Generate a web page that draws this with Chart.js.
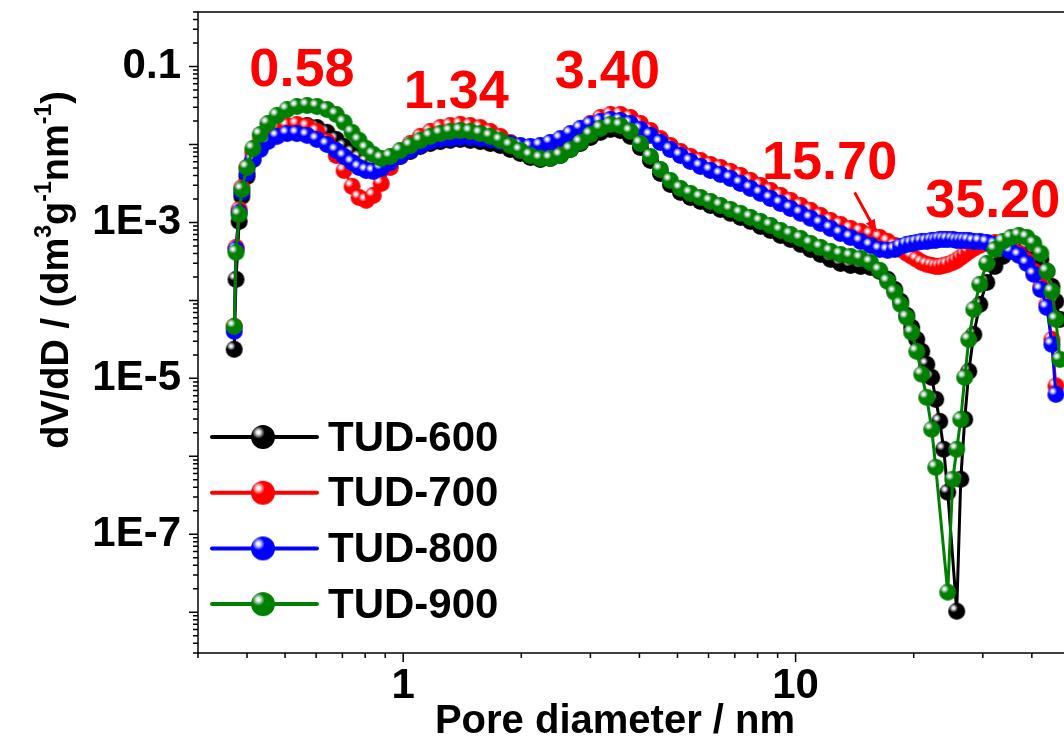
<!DOCTYPE html>
<html>
<head>
<meta charset="utf-8">
<script src="https://cdn.jsdelivr.net/npm/chart.js@4.4.0/dist/chart.umd.min.js"></script>
<style>
  html, body { margin: 0; padding: 0; background: #fff; overflow: hidden; }
  #wrap { width: 1120px; height: 740px; }
</style>
</head>
<body>
<div id="wrap"><canvas id="psd" width="1120" height="740"></canvas></div>
<script>
// pore diameter grid (nm), shared by all four samples
const diameter = [
  0.371,0.375,0.382,0.388,0.400,0.414,0.432,0.452,0.477,0.506,
  0.536,0.569,0.603,0.640,0.675,0.707,0.741,0.772,0.805,0.839,
  0.879,0.927,0.982,1.042,1.105,1.172,1.243,1.318,1.398,1.482,
  1.572,1.667,1.768,1.875,1.988,2.109,2.236,2.371,2.515,2.667,
  2.828,2.999,3.181,3.374,3.577,3.794,4.023,4.267,4.525,4.798,
  5.089,5.397,5.724,6.070,6.437,6.826,7.239,7.677,8.141,8.634,
  9.157,9.710,10.30,10.92,11.58,12.28,13.02,13.81,14.65,15.53,
  16.38,17.17,17.89,18.53,19.20,19.77,20.36,20.97,21.59,22.23,
  22.76,23.30,23.85,24.42,25.15,25.74,26.36,26.98,27.63,28.45,
  29.47,30.71,32.19,33.74,35.37,37.07,38.86,40.48,42.17,43.69,
  44.99,46.06,47.16
];

// dV/dD values (dm3 g-1 nm-1)
const tud600 = [
  2.36e-5,1.86e-4,1.03e-3,2.16e-3,3.89e-3,6.42e-3,9.15e-3,1.19e-2,1.47e-2,1.65e-2,
  1.75e-2,1.75e-2,1.65e-2,1.43e-2,1.16e-2,9.43e-3,7.90e-3,6.81e-3,6.06e-3,5.71e-3,
  5.54e-3,6.06e-3,7.02e-3,8.13e-3,9.43e-3,1.03e-2,1.09e-2,1.13e-2,1.16e-2,1.13e-2,
  1.09e-2,1.03e-2,9.71e-3,8.63e-3,7.67e-3,6.81e-3,6.42e-3,6.62e-3,7.23e-3,8.63e-3,
  1.03e-2,1.23e-2,1.43e-2,1.56e-2,1.51e-2,1.27e-2,9.15e-3,6.24e-3,4.25e-3,3.07e-3,
  2.43e-3,2.09e-3,1.86e-3,1.65e-3,1.47e-3,1.31e-3,1.16e-3,1.03e-3,8.89e-4,7.90e-4,
  6.81e-4,6.06e-4,5.23e-4,4.51e-4,3.89e-4,3.36e-4,2.98e-4,2.81e-4,2.73e-4,2.65e-4,
  2.36e-4,1.86e-4,1.38e-4,9.71e-5,6.42e-5,4.51e-5,3.16e-5,2.22e-5,1.51e-5,1.03e-5,
  5.38e-6,2.81e-6,1.23e-6,3.46e-7,null,1.03e-8,5.07e-7,2.98e-6,1.23e-5,3.67e-5,
  8.89e-5,1.70e-4,2.73e-4,3.67e-4,4.38e-4,4.78e-4,4.78e-4,4.25e-4,3.36e-4,2.36e-4,
  1.51e-4,9.71e-5,5.71e-5
];
const tud700 = [
  4.64e-5,4.78e-4,1.47e-3,2.81e-3,5.07e-3,7.90e-3,1.09e-2,1.38e-2,1.61e-2,1.75e-2,
  1.81e-2,1.70e-2,1.47e-2,1.09e-2,7.23e-3,4.64e-3,2.90e-3,2.09e-3,1.92e-3,2.22e-3,
  3.16e-3,5.07e-3,7.67e-3,1.03e-2,1.27e-2,1.47e-2,1.65e-2,1.75e-2,1.81e-2,1.75e-2,
  1.65e-2,1.47e-2,1.27e-2,1.06e-2,8.63e-3,7.45e-3,7.02e-3,7.67e-3,9.43e-3,1.19e-2,
  1.51e-2,1.86e-2,2.22e-2,2.43e-2,2.43e-2,2.22e-2,1.86e-2,1.51e-2,1.19e-2,9.71e-3,
  8.13e-3,7.02e-3,6.24e-3,5.54e-3,5.07e-3,4.51e-3,4.01e-3,3.46e-3,2.98e-3,2.57e-3,
  2.22e-3,1.92e-3,1.65e-3,1.43e-3,1.23e-3,1.06e-3,9.43e-4,8.38e-4,7.67e-4,7.02e-4,
  6.42e-4,5.71e-4,5.07e-4,4.51e-4,4.01e-4,3.67e-4,3.36e-4,3.07e-4,2.90e-4,2.81e-4,
  2.73e-4,2.73e-4,2.81e-4,2.90e-4,3.07e-4,3.26e-4,3.56e-4,3.89e-4,4.25e-4,4.64e-4,
  5.07e-4,5.38e-4,5.54e-4,5.38e-4,4.64e-4,4.01e-4,3.26e-4,2.36e-4,1.51e-4,8.89e-5,
  3.16e-5,8.0e-6,null
];
const tud800 = [
  4.01e-5,4.51e-4,1.34e-3,2.43e-3,4.25e-3,6.42e-3,8.63e-3,1.09e-2,1.27e-2,1.38e-2,
  1.38e-2,1.31e-2,1.16e-2,1.00e-2,8.38e-3,7.02e-3,5.88e-3,5.07e-3,4.64e-3,4.51e-3,
  4.93e-3,5.88e-3,7.02e-3,8.38e-3,9.71e-3,1.09e-2,1.16e-2,1.19e-2,1.23e-2,1.23e-2,
  1.19e-2,1.16e-2,1.09e-2,1.03e-2,9.71e-3,9.43e-3,9.71e-3,1.06e-2,1.19e-2,1.38e-2,
  1.61e-2,1.81e-2,1.97e-2,2.09e-2,2.03e-2,1.86e-2,1.56e-2,1.31e-2,1.06e-2,8.63e-3,
  7.23e-3,6.06e-3,5.23e-3,4.64e-3,4.13e-3,3.67e-3,3.16e-3,2.73e-3,2.36e-3,2.03e-3,
  1.75e-3,1.51e-3,1.31e-3,1.13e-3,9.71e-4,8.38e-4,7.23e-4,6.42e-4,5.71e-4,5.07e-4,
  4.51e-4,4.38e-4,4.51e-4,4.93e-4,5.23e-4,5.38e-4,5.54e-4,5.71e-4,5.71e-4,5.88e-4,
  5.88e-4,6.06e-4,6.06e-4,6.06e-4,6.06e-4,5.88e-4,5.88e-4,5.88e-4,5.88e-4,5.71e-4,
  5.71e-4,5.54e-4,5.23e-4,4.78e-4,4.25e-4,3.78e-4,2.98e-4,2.16e-4,1.38e-4,8.13e-5,
  2.73e-5,6.24e-6,null
];
const tud900 = [
  4.64e-5,4.13e-4,1.27e-3,2.65e-3,5.07e-3,8.89e-3,1.34e-2,1.86e-2,2.36e-2,2.81e-2,
  3.07e-2,3.16e-2,3.07e-2,2.81e-2,2.43e-2,1.92e-2,1.43e-2,1.13e-2,8.89e-3,7.45e-3,
  6.62e-3,7.02e-3,8.38e-3,9.71e-3,1.13e-2,1.27e-2,1.38e-2,1.47e-2,1.51e-2,1.47e-2,
  1.38e-2,1.27e-2,1.13e-2,9.71e-3,8.38e-3,7.23e-3,6.62e-3,6.62e-3,7.23e-3,8.63e-3,
  1.06e-2,1.34e-2,1.61e-2,1.81e-2,1.75e-2,1.47e-2,1.03e-2,7.02e-3,4.78e-3,3.46e-3,
  2.73e-3,2.36e-3,2.09e-3,1.86e-3,1.65e-3,1.47e-3,1.31e-3,1.16e-3,1.03e-3,9.15e-4,
  7.90e-4,7.02e-4,6.24e-4,5.38e-4,4.78e-4,4.25e-4,3.89e-4,3.67e-4,3.46e-4,3.07e-4,
  2.43e-4,1.75e-4,1.27e-4,8.89e-5,6.06e-5,3.89e-5,2.22e-5,1.13e-5,5.71e-6,2.22e-6,
  7.23e-7,null,null,1.81e-8,5.07e-7,1.23e-6,2.98e-6,1.03e-5,3.16e-5,7.67e-5,
  1.61e-4,2.98e-4,4.51e-4,5.71e-4,6.42e-4,6.81e-4,6.42e-4,5.38e-4,4.01e-4,2.36e-4,
  1.31e-4,5.71e-5,1.75e-5
];

const seriesNames = ['TUD-600', 'TUD-700', 'TUD-800', 'TUD-900'];
const seriesValues = [tud600, tud700, tud800, tud900];
const seriesColors = ['#000000', '#ff0000', '#0000ff', '#008000'];

// axis ticks
const xLabelTicks = [1, 10];
const yLabelTicks = [0.1, 1e-3, 1e-5, 1e-7];
const xTickValues = [0.3,0.4,0.5,0.6,0.7,0.8,0.9,1,2,3,4,5,6,7,8,9,10,20,30,40,50,60];
const yDecades = [-9, -8, -7, -6, -5, -4, -3, -2, -1];
const yTickValues = [];
yDecades.forEach(e => { for (let m = 1; m <= 9; m++) yTickValues.push(m * Math.pow(10, e)); });

// peak labels (text, diameter, dV/dD where the text sits)
const peakText = ['0.58', '1.34', '3.40', '15.70', '35.20'];
const peakAt = [[0.552, 0.0863], [1.365, 0.0451], [3.314, 0.0813], [12.21, 5.54e-3], [31.8, 1.80e-3]];
const arrowFrom = [14.14, 2.43e-3];
const arrowTo = [16.09, 7.44e-4];

const FONT = "'Liberation Sans', Arial, Helvetica, sans-serif";

// shiny ball markers
function makeBall(color, r) {
  const c = document.createElement('canvas');
  const size = Math.ceil(r * 2 + 2);
  c.width = c.height = size;
  const g = c.getContext('2d');
  const cx = size / 2, cy = size / 2;
  const hx = cx - r * 0.38, hy = cy - r * 0.38;
  const grad = g.createRadialGradient(hx, hy, 0, hx, hy, r * 1.5);
  grad.addColorStop(0, '#ffffff');
  grad.addColorStop(0.1, 'rgba(235,235,245,1)');
  grad.addColorStop(0.35, color);
  grad.addColorStop(1, color);
  g.fillStyle = grad;
  g.beginPath();
  g.arc(cx, cy, r, 0, Math.PI * 2);
  g.fill();
  return c;
}
const balls = seriesColors.map(c => makeBall(c, 8.5));
const legendBalls = seriesColors.map(c => makeBall(c, 12));

function isDecade(v) {
  const l = Math.log10(v);
  return Math.abs(l - Math.round(l)) < 1e-6;
}

const decor = {
  id: 'decor',
  afterDraw(chart) {
    const { ctx, chartArea: a, scales: { x, y } } = chart;
    ctx.save();

    // frame
    ctx.strokeStyle = '#000';
    ctx.lineWidth = 1.5;
    ctx.strokeRect(a.left, a.top, a.right - a.left, a.bottom - a.top);

    // tick marks, outward
    ctx.beginPath();
    xTickValues.forEach(v => {
      const px = x.getPixelForValue(v);
      if (px < a.left - 1 || px > a.right) return;
      const len = isDecade(v) ? 9 : 5;
      ctx.moveTo(px, a.bottom);
      ctx.lineTo(px, a.bottom + len);
    });
    yTickValues.forEach(v => {
      const py = y.getPixelForValue(v);
      if (py < a.top || py > a.bottom + 1) return;
      const len = isDecade(v) ? 9 : 5;
      ctx.moveTo(a.left, py);
      ctx.lineTo(a.left - len, py);
    });
    ctx.stroke();

    // axis titles
    ctx.fillStyle = '#000';
    ctx.font = 'bold 40px ' + FONT;
    ctx.textAlign = 'center';
    ctx.textBaseline = 'alphabetic';
    ctx.fillText('Pore diameter / nm', 615, 733);

    const parts = [['dV/dD / (dm', 0], ['3', 1], ['g', 0], ['-1', 1], ['nm', 0], ['-1', 1], [')', 0]];
    const mainFont = 'bold 38px ' + FONT, supFont = 'bold 23px ' + FONT;
    let total = 0;
    parts.forEach(p => { ctx.font = p[1] ? supFont : mainFont; total += ctx.measureText(p[0]).width; });
    ctx.save();
    ctx.translate(68, 270);
    ctx.rotate(-Math.PI / 2);
    ctx.textAlign = 'left';
    let cx = -total / 2;
    parts.forEach(p => {
      ctx.font = p[1] ? supFont : mainFont;
      ctx.fillText(p[0], cx, p[1] ? -17 : 0);
      cx += ctx.measureText(p[0]).width;
    });
    ctx.restore();

    // peak labels
    ctx.fillStyle = '#ff0000';
    ctx.font = 'bold 54px ' + FONT;
    ctx.textAlign = 'center';
    ctx.textBaseline = 'middle';
    peakText.forEach((t, i) => {
      ctx.fillText(t, x.getPixelForValue(peakAt[i][0]), y.getPixelForValue(peakAt[i][1]));
    });

    // arrow to the 15.70 shoulder
    const x0 = x.getPixelForValue(arrowFrom[0]), y0 = y.getPixelForValue(arrowFrom[1]);
    const x1 = x.getPixelForValue(arrowTo[0]), y1 = y.getPixelForValue(arrowTo[1]);
    const ang = Math.atan2(y1 - y0, x1 - x0);
    ctx.strokeStyle = '#ff0000';
    ctx.lineWidth = 3;
    ctx.beginPath();
    ctx.moveTo(x0, y0);
    ctx.lineTo(x1 - 8 * Math.cos(ang), y1 - 8 * Math.sin(ang));
    ctx.stroke();
    ctx.beginPath();
    ctx.moveTo(x1, y1);
    ctx.lineTo(x1 - 13 * Math.cos(ang) + 5 * Math.sin(ang), y1 - 13 * Math.sin(ang) - 5 * Math.cos(ang));
    ctx.lineTo(x1 - 13 * Math.cos(ang) - 5 * Math.sin(ang), y1 - 13 * Math.sin(ang) + 5 * Math.cos(ang));
    ctx.closePath();
    ctx.fillStyle = '#ff0000';
    ctx.fill();

    // legend
    seriesNames.forEach((name, k) => {
      const ly = 437 + k * 55.7;
      ctx.strokeStyle = seriesColors[k];
      ctx.lineWidth = 4;
      ctx.lineCap = 'round';
      ctx.beginPath();
      ctx.moveTo(212, ly);
      ctx.lineTo(317, ly);
      ctx.stroke();
      const b = legendBalls[k];
      ctx.drawImage(b, 263 - b.width / 2, ly - b.height / 2);
      ctx.fillStyle = '#000';
      ctx.font = 'bold 42px ' + FONT;
      ctx.textAlign = 'left';
      ctx.textBaseline = 'middle';
      ctx.fillText(name, 328, ly + 2);
    });

    ctx.restore();
  }
};

const datasets = seriesNames.map((name, k) => ({
  label: name,
  data: diameter.map((d, i) => ({ x: d, y: seriesValues[k][i] })),
  borderColor: seriesColors[k],
  backgroundColor: seriesColors[k],
  borderWidth: 3,
  pointStyle: balls[k],
  pointRadius: 8.5,
  spanGaps: true,
  tension: 0,
  order: 4 - k
}));

new Chart(document.getElementById('psd'), {
  type: 'line',
  data: { datasets },
  options: {
    responsive: false,
    animation: false,
    layout: { autoPadding: false, padding: { top: 12, left: 0, right: 0, bottom: 0 } },
    plugins: { legend: { display: false }, tooltip: { enabled: false } },
    scales: {
      x: {
        type: 'logarithmic',
        min: 0.3,
        max: 67.1,
        grid: { display: false, drawTicks: false },
        border: { display: false },
        afterBuildTicks: s => { s.ticks = xLabelTicks.map(v => ({ value: v })); },
        afterFit: s => { s.height = 87; s.paddingLeft = 0; s.paddingRight = 0; },
        ticks: {
          autoSkip: false,
          maxRotation: 0,
          padding: 8,
          color: '#000',
          font: { family: FONT, size: 42, weight: 'bold' },
          callback: v => String(v)
        }
      },
      y: {
        type: 'logarithmic',
        min: 3e-9,
        max: 0.5,
        grid: { display: false, drawTicks: false },
        border: { display: false },
        afterBuildTicks: s => { s.ticks = yLabelTicks.map(v => ({ value: v })); },
        afterFit: s => { s.width = 198; s.paddingTop = 0; s.paddingBottom = 0; },
        ticks: {
          autoSkip: false,
          padding: 17,
          color: '#000',
          font: { family: FONT, size: 42, weight: 'bold' },
          callback: v => (v >= 0.1 ? '0.1' : '1E' + Math.round(Math.log10(v)))
        }
      }
    }
  },
  plugins: [decor]
});
</script>
</body>
</html>
